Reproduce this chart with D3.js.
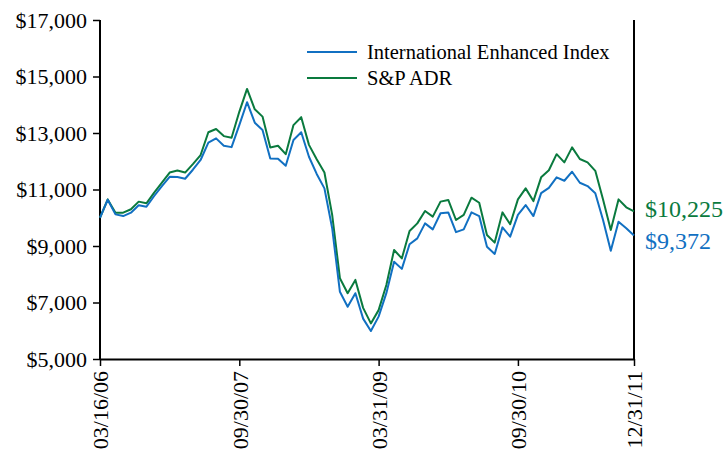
<!DOCTYPE html>
<html>
<head>
<meta charset="utf-8">
<script src="https://cdn.jsdelivr.net/npm/d3@7"></script>
<style>
  body { margin: 0; background: #fff; }
  text { font-family: "Liberation Serif", "Times New Roman", serif; }
</style>
</head>
<body>
<div id="chart"></div>
<script>
// ---- data ----
const seriesNames = ['International Enhanced Index', 'S&P ADR'];
const seriesColors = ['#1170c2', '#0a7a3e'];

const intlEnhanced = [
  10000, 10640, 10120, 10060, 10180, 10440, 10390, 10770, 11120, 11450,
  11440, 11380, 11700, 12045, 12660, 12810, 12550, 12500, 13280, 14090,
  13365, 13105, 12100, 12090, 11840, 12750, 13025, 12160, 11550, 11040,
  9630, 7380, 6850, 7330, 6430, 5990, 6500, 7330, 8440, 8190,
  9060, 9270, 9800, 9590, 10160, 10190, 9490, 9590, 10190, 10060,
  8975, 8720, 9660, 9330, 10100, 10450, 10060, 10870, 11060, 11430,
  11310, 11630, 11240, 11120, 10870, 9920, 8830, 9860, 9630, 9372
];
const spADR = [
  10000, 10650, 10180, 10180, 10300, 10570, 10510, 10890, 11240, 11600,
  11670, 11600, 11900, 12220, 13025, 13140, 12890, 12830, 13750, 14560,
  13840, 13580, 12490, 12550, 12250, 13280, 13560, 12580, 12070, 11600,
  10100, 7860, 7330, 7800, 6810, 6260, 6730, 7620, 8860, 8560,
  9530, 9800, 10240, 10040, 10570, 10630, 9920, 10100, 10710, 10530,
  9390, 9120, 10190, 9770, 10650, 11040, 10590, 11430, 11680, 12250,
  11960, 12490, 12080, 11960, 11660, 10650, 9570, 10650, 10370, 10225
];
const tickDates = ['03/16/06', '09/30/07', '03/31/09', '09/30/10', '12/31/11'];
const yTicks = [5000, 7000, 9000, 11000, 13000, 15000, 17000];

// month-end dates after the 03/16/06 start
const fmt = d3.timeFormat('%m/%d/%y');
const dates = ['03/16/06'].concat(
  d3.range(1, intlEnhanced.length).map(i => fmt(d3.timeDay.offset(new Date(2006, 3 + i, 1), -1)))
);

// ---- layout ----
const width = 725, height = 461;
const margin = { top: 20, right: 91, bottom: 102, left: 100 };

const svg = d3.select('#chart').append('svg')
  .attr('width', width)
  .attr('height', height);

const x = d3.scalePoint()
  .domain(dates)
  .range([margin.left, width - margin.right]);

const y = d3.scaleLinear()
  .domain([5000, 17000])
  .range([height - margin.bottom, margin.top]);

const fmtMoney = d => '$' + d3.format(',')(d);

// y axis
const yAxis = svg.append('g')
  .attr('transform', `translate(${margin.left},0)`)
  .call(d3.axisLeft(y).tickValues(yTicks).tickSize(7).tickPadding(6).tickFormat(fmtMoney));
yAxis.select('.domain').attr('stroke', '#000').attr('stroke-width', 2).attr('d', `M0,${y(5000)}V${y(17000)}`);
yAxis.selectAll('.tick line').attr('stroke', '#000').attr('stroke-width', 1.5);
yAxis.selectAll('.tick text')
  .attr('font-size', 22)
  .attr('fill', '#000')
  .attr('font-family', '"Liberation Serif", serif');

// x axis
const xAxis = svg.append('g')
  .attr('transform', `translate(0,${height - margin.bottom})`)
  .call(d3.axisBottom(x).tickValues(tickDates).tickSize(7).tickSizeOuter(0));
xAxis.select('.domain').attr('stroke', '#000').attr('stroke-width', 2);
xAxis.selectAll('.tick line').attr('stroke', '#000').attr('stroke-width', 1.5);
xAxis.selectAll('.tick text')
  .attr('font-size', 22)
  .attr('fill', '#000')
  .attr('font-family', '"Liberation Serif", serif')
  .attr('text-anchor', 'end')
  .attr('transform', 'rotate(-90)')
  .attr('x', -12)
  .attr('y', 0)
  .attr('dy', '0.35em');

// right border line
svg.append('line')
  .attr('x1', x(dates[dates.length - 1])).attr('x2', x(dates[dates.length - 1]))
  .attr('y1', y(17000)).attr('y2', y(5000))
  .attr('stroke', '#000').attr('stroke-width', 2);

// lines
const line = d3.line()
  .x((d, i) => x(dates[i]))
  .y(d => y(d));

svg.append('g').selectAll('path')
  .data([spADR, intlEnhanced])
  .join('path')
  .attr('d', line)
  .attr('fill', 'none')
  .attr('stroke', d => d === spADR ? seriesColors[1] : seriesColors[0])
  .attr('stroke-width', 2)
  .attr('stroke-linejoin', 'round');

// end labels
const lastX = x(dates[dates.length - 1]);
svg.append('text')
  .attr('x', lastX + 11).attr('y', y(spADR[spADR.length - 1]) - 3)
  .attr('dy', '0.35em')
  .attr('font-size', 24)
  .attr('fill', seriesColors[1])
  .text(fmtMoney(spADR[spADR.length - 1]));
svg.append('text')
  .attr('x', lastX + 11).attr('y', y(intlEnhanced[intlEnhanced.length - 1]) + 5)
  .attr('dy', '0.35em')
  .attr('font-size', 24)
  .attr('fill', seriesColors[0])
  .text(fmtMoney(intlEnhanced[intlEnhanced.length - 1]));

// legend
const legend = svg.append('g').attr('transform', 'translate(307,52)');
seriesNames.forEach((name, i) => {
  const g = legend.append('g').attr('transform', `translate(0,${i * 26})`);
  g.append('line').attr('x1', 0).attr('x2', 50).attr('y1', 0).attr('y2', 0)
    .attr('stroke', seriesColors[i]).attr('stroke-width', 2);
  g.append('text').attr('x', 60).attr('y', 0).attr('dy', '0.35em')
    .attr('font-size', 20.5).attr('fill', '#000').text(name);
});
</script>
</body>
</html>
